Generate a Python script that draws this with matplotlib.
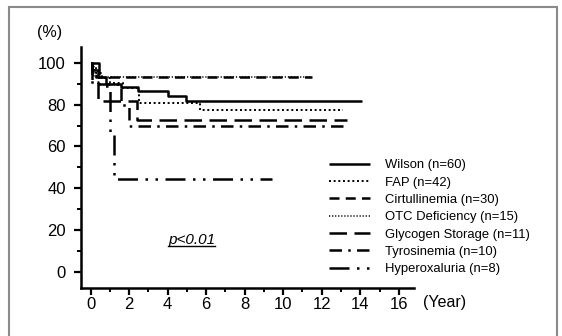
import matplotlib
matplotlib.use("Agg")
import matplotlib.pyplot as plt
from matplotlib.patches import Rectangle
from matplotlib.lines import Line2D
from matplotlib.ticker import MultipleLocator

plt.rcParams['font.family'] = ['Liberation Sans', 'DejaVu Sans']

# Kaplan-Meier survival by disease group (years, % surviving)
wilson_t = [0, 0.1, 0.4, 0.8, 1.6, 2.45, 4.0, 4.95]
wilson_s = [100, 96.7, 93.3, 90.0, 88.3, 86.7, 84.2, 81.7]
wilson_end = 14.1

fap_t = [0, 0.1, 0.3, 0.6, 1.0, 1.7, 2.5, 5.7]
fap_s = [100, 97.6, 95.2, 92.9, 90.5, 88.1, 81.0, 77.6]
fap_end = 13.1

cirt_t = [0, 0.1, 0.3]
cirt_s = [100, 96.7, 93.3]
cirt_end = 11.5

otc_t = [0, 0.2]
otc_s = [100, 93.3]
otc_end = 11.5

glyco_t = [0, 0.05, 0.4, 2.4]
glyco_s = [100, 90.9, 81.8, 72.7]
glyco_end = 13.3

tyro_t = [0, 0.1, 1.6, 2.0]
tyro_s = [100, 90.0, 80.0, 70.0]
tyro_end = 13.3

hyper_t = [0, 0.45, 1.0, 1.2]
hyper_s = [100, 88.9, 66.7, 44.4]
hyper_end = 9.4

labels = ['Wilson (n=60)', 'FAP (n=42)', 'Cirtullinemia (n=30)',
          'OTC Deficiency (n=15)', 'Glycogen Storage (n=11)',
          'Tyrosinemia (n=10)', 'Hyperoxaluria (n=8)']

styles = [
    dict(ls='-', lw=1.8),
    dict(ls=(0, (1, 1.4)), lw=1.4),
    dict(ls=(0, (4, 2.5)), lw=1.8),
    dict(ls=(0, (0.8, 1.2)), lw=1.1),
    dict(ls=(0, (7, 3)), lw=1.8),
    dict(ls=(0, (5, 2.5, 1, 2.5)), lw=1.8),
    dict(ls=(0, (8, 3, 1, 3, 1, 3)), lw=1.8),
]

curves = [(wilson_t, wilson_s, wilson_end), (fap_t, fap_s, fap_end),
          (cirt_t, cirt_s, cirt_end), (otc_t, otc_s, otc_end),
          (glyco_t, glyco_s, glyco_end), (tyro_t, tyro_s, tyro_end),
          (hyper_t, hyper_s, hyper_end)]

fig = plt.figure(figsize=(5.62, 3.36), dpi=100)
ax = fig.add_axes([0.144, 0.143, 0.593, 0.717])

for (t, s, end), lab, st in zip(curves, labels, styles):
    ax.step(t + [end], s + [s[-1]], where='post', color='black',
            label=lab, dash_capstyle='butt', solid_capstyle='butt', **st)

ax.set_xlim(-0.5, 16.8)
ax.set_ylim(-7.7, 107.6)
ax.xaxis.set_minor_locator(MultipleLocator(1))
ax.yaxis.set_minor_locator(MultipleLocator(10))
ax.set_xticks(range(0, 17, 2))
ax.set_yticks(range(0, 101, 20))

for side in ['top', 'right']:
    ax.spines[side].set_visible(False)
for side in ['left', 'bottom']:
    ax.spines[side].set_linewidth(1.8)

ax.tick_params(which='major', length=5, width=1.6, labelsize=12)
ax.tick_params(which='minor', length=3, width=1.4)
ax.tick_params(axis='y', which='major', pad=6)
ax.tick_params(axis='x', which='major', pad=1.5)

ax.text(-0.095, 1.06, '(%)', transform=ax.transAxes, fontsize=11.5,
        ha='center', va='center')
ax.text(1.09, -0.06, '(Year)', transform=ax.transAxes, fontsize=11.5,
        ha='center', va='center')

# underlined italic p-value
ptxt = ax.text(5.25, 15.3, 'p<0.01', fontsize=11, style='italic',
               ha='center', va='center')
fig.canvas.draw()
bb = ptxt.get_window_extent().transformed(fig.transFigure.inverted())
fig.add_artist(Line2D([bb.x0, bb.x1], [bb.y0 + 0.004, bb.y0 + 0.004],
                      transform=fig.transFigure, color='black', lw=1.0))

ax.legend(loc='upper left', bbox_to_anchor=(0.745, 0.535), frameon=False,
          fontsize=9.4, handlelength=3.1, handletextpad=1.2,
          labelspacing=0.4, borderaxespad=0, borderpad=0)

# grey frame round the whole figure
fig.add_artist(Rectangle((9 / 562, -0.1), 548 / 562, 1.1 - 7 / 336,
                         transform=fig.transFigure, fill=False,
                         edgecolor='#8a8a8a', lw=1.5, clip_on=False))

fig.savefig('out.png', dpi=100)
